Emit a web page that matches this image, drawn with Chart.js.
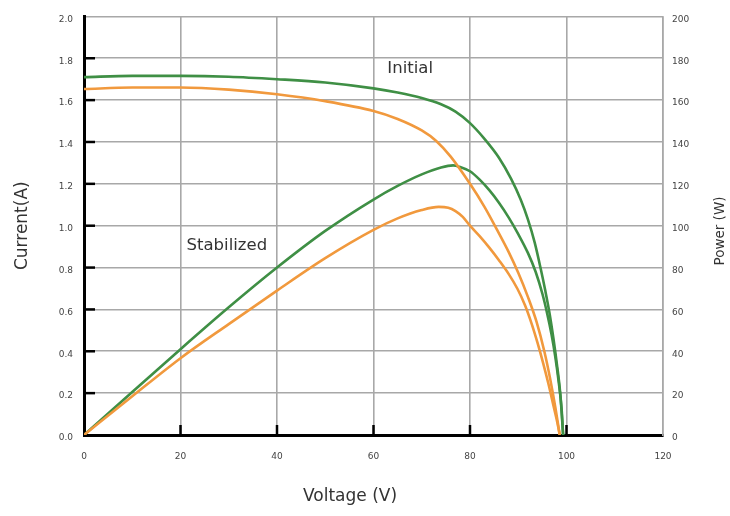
<!DOCTYPE html>
<html>
<head>
<meta charset="utf-8">
<script src="https://cdn.jsdelivr.net/npm/chart.js@4.4.0/dist/chart.umd.min.js"></script>
<style>
  html, body { margin: 0; padding: 0; background: #fff; }
  #wrap { width: 730px; height: 516px; }
</style>
</head>
<body>
<div id="wrap"><canvas id="ivChart" width="730" height="516"></canvas></div>
<script>
// I-V and P-V curves
const initialIvVolts = [0, 10, 20, 30, 40, 50, 60, 65, 70, 74, 77, 80, 83, 86, 88.5, 90.5, 92, 93.4, 94.6, 95.6, 96.5, 97.3, 98, 98.7, 99.3];
const initialIvAmps  = [1.71, 1.716, 1.716, 1.712, 1.70, 1.684, 1.656, 1.636, 1.61, 1.58, 1.545, 1.49, 1.415, 1.325, 1.225, 1.125, 1.03, 0.92, 0.80, 0.69, 0.58, 0.46, 0.34, 0.2, 0];

const stabIvVolts = [0, 10, 20, 30, 40, 50, 60, 65, 70, 73, 76, 80, 83, 85.5, 88, 90, 92, 93.8, 95.4, 96.6, 97.7, 98.6];
const stabIvAmps  = [1.653, 1.66, 1.66, 1.65, 1.628, 1.595, 1.548, 1.51, 1.455, 1.405, 1.33, 1.2, 1.09, 0.985, 0.875, 0.775, 0.66, 0.54, 0.4, 0.27, 0.13, 0];

const initialPwVolts = [0, 10, 20, 30, 40, 50, 60, 65, 70, 74, 76.5, 78, 80, 82, 84, 86, 88, 90, 92, 93.6, 95, 96, 96.9, 97.7, 98.4, 99, 99.3];
const initialPwWatts = [0, 20.5, 41, 61, 80, 97.5, 112.5, 119, 124.5, 127.8, 128.8, 128, 126, 122, 117, 111, 104, 96, 87, 78, 67.5, 58, 48, 37, 25, 12, 0];

const stabPwVolts = [0, 10, 20, 30, 40, 50, 60, 65, 70, 73.5, 75.5, 77, 78.5, 80, 82, 84, 86, 88, 89.8, 91.4, 92.8, 94, 95.2, 96.3, 97.3, 98.1, 98.6];
const stabPwWatts = [0, 18.5, 36.7, 53, 69, 84.5, 98, 103.5, 107.5, 109, 108.6, 107, 104.2, 100, 95, 89.5, 83.5, 77, 70, 62, 53, 44, 34, 24, 14, 6, 0];

const voltTicks = [0, 20, 40, 60, 80, 100, 120];
const ampTicks = [0, 0.2, 0.4, 0.6, 0.8, 1.0, 1.2, 1.4, 1.6, 1.8, 2.0];
const wattTicks = [0, 20, 40, 60, 80, 100, 120, 140, 160, 180, 200];

const curveLabels = [
    { text: 'Initial', x: 67.6, y: 1.749 },
    { text: 'Stabilized', x: 29.6, y: 0.906 }
];

const GREEN = '#3f8f45';
const ORANGE = '#f1993d';
const GRID = '#a8a8a8';
const TEXT = '#444';

function toPoints(xs, ys) {
    return xs.map(function (x, i) { return { x: x, y: ys[i] }; });
}

function lineSet(label, xs, ys, color, axis) {
    return {
        label: label,
        data: toPoints(xs, ys),
        borderColor: color,
        backgroundColor: color,
        borderWidth: 2.6,
        pointRadius: 0,
        fill: false,
        cubicInterpolationMode: 'monotone',
        yAxisID: axis
    };
}

// inner tick marks, curve labels, x title and the right title
const extras = {
    id: 'extras',
    afterDatasetsDraw: function (chart) {
        const ctx = chart.ctx;
        const xs = chart.scales.x, ys = chart.scales.y;
        const area = chart.chartArea;
        ctx.save();
        ctx.strokeStyle = '#000';
        ctx.lineWidth = 2.5;
        ampTicks.forEach(function (v) {
            if (v <= 0 || v >= 2) return;
            const py = ys.getPixelForValue(v);
            ctx.beginPath();
            ctx.moveTo(area.left, py);
            ctx.lineTo(area.left + 11, py);
            ctx.stroke();
        });
        voltTicks.forEach(function (v) {
            if (v <= 0 || v >= 120) return;
            const px = xs.getPixelForValue(v);
            ctx.beginPath();
            ctx.moveTo(px, area.bottom);
            ctx.lineTo(px, area.bottom - 10);
            ctx.stroke();
        });

        ctx.fillStyle = '#333';
        ctx.font = '16.5px "DejaVu Sans"';
        ctx.textAlign = 'center';
        ctx.textBaseline = 'middle';
        curveLabels.forEach(function (l) {
            ctx.fillText(l.text, xs.getPixelForValue(l.x), ys.getPixelForValue(l.y));
        });

        ctx.font = '17px "DejaVu Sans"';
        ctx.fillText('Voltage (V)', 350, 497);

        ctx.font = '13.5px "DejaVu Sans"';
        ctx.translate(720, 231);
        ctx.rotate(-Math.PI / 2);
        ctx.fillText('Power (W)', 0, 0);
        ctx.restore();
    }
};

document.addEventListener('DOMContentLoaded', function () {
    const ctx = document.getElementById('ivChart').getContext('2d');
    new Chart(ctx, {
        type: 'line',
        data: {
            datasets: [
                lineSet('Stabilized current', stabIvVolts, stabIvAmps, ORANGE, 'y'),
                lineSet('Stabilized power', stabPwVolts, stabPwWatts, ORANGE, 'y1'),
                lineSet('Initial current', initialIvVolts, initialIvAmps, GREEN, 'y'),
                lineSet('Initial power', initialPwVolts, initialPwWatts, GREEN, 'y1')
            ]
        },
        options: {
            responsive: false,
            animation: false,
            layout: { padding: { top: 13, left: 0, right: 0, bottom: 0 } },
            plugins: {
                legend: { display: false },
                tooltip: { enabled: false }
            },
            scales: {
                x: {
                    type: 'linear',
                    min: 0,
                    max: 120,
                    afterFit: function (scale) { scale.height = 81; },
                    afterBuildTicks: function (scale) {
                        scale.ticks = voltTicks.map(function (v) { return { value: v }; });
                    },
                    ticks: {
                        padding: 16,
                        color: TEXT,
                        font: { family: 'DejaVu Sans', size: 9 },
                        maxRotation: 0
                    },
                    grid: { color: GRID, lineWidth: 1.6, drawTicks: false },
                    border: { color: '#000', width: 3 },
                    title: { display: false }
                },
                y: {
                    position: 'left',
                    min: 0,
                    max: 2,
                    afterFit: function (scale) { scale.width = 84; },
                    afterBuildTicks: function (scale) {
                        scale.ticks = ampTicks.map(function (v) { return { value: v }; });
                    },
                    ticks: {
                        padding: 11,
                        labelOffset: 3,
                        color: TEXT,
                        font: { family: 'DejaVu Sans', size: 9 },
                        callback: function (value) { return Number(value).toFixed(1); }
                    },
                    grid: { color: GRID, lineWidth: 1.6, drawTicks: false },
                    border: { color: '#000', width: 3 },
                    title: {
                        display: true,
                        text: 'Current(A)',
                        color: '#333',
                        font: { family: 'DejaVu Sans', size: 17 },
                        padding: { top: 12, bottom: 0 }
                    }
                },
                y1: {
                    position: 'right',
                    min: 0,
                    max: 200,
                    afterFit: function (scale) { scale.width = 67; },
                    afterBuildTicks: function (scale) {
                        scale.ticks = wattTicks.map(function (v) { return { value: v }; });
                    },
                    ticks: {
                        padding: 9,
                        labelOffset: 3,
                        color: TEXT,
                        font: { family: 'DejaVu Sans', size: 9 }
                    },
                    grid: { drawOnChartArea: false, drawTicks: false },
                    border: { color: GRID, width: 1.6 }
                }
            }
        },
        plugins: [extras]
    });
});
</script>
</body>
</html>
